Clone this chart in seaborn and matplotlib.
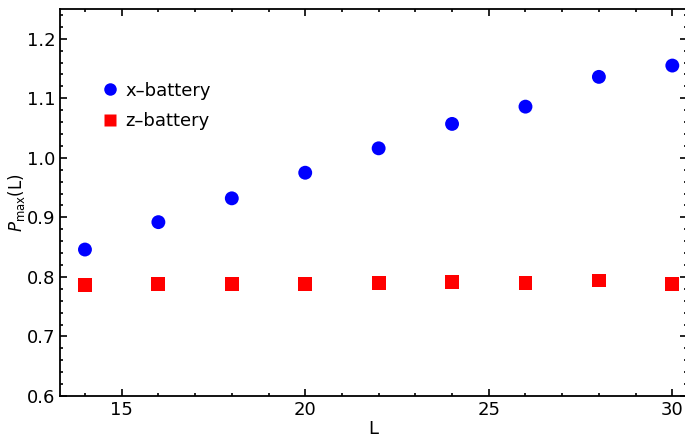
import numpy as np
import pandas as pd
import matplotlib
matplotlib.use("Agg")
import matplotlib.pyplot as plt
from matplotlib.ticker import MultipleLocator
import seaborn as sns

sizes_L = [14, 16, 18, 20, 22, 24, 26, 28, 30]
x_battery = [0.846, 0.892, 0.932, 0.975, 1.016, 1.057, 1.086, 1.136, 1.155]
z_battery = [0.787, 0.788, 0.788, 0.788, 0.790, 0.792, 0.790, 0.794, 0.788]

sns.set_style("ticks")
plt.rcParams["font.family"] = ["DejaVu Sans"]
plt.rcParams["text.color"] = "black"
plt.rcParams["axes.labelcolor"] = "black"
plt.rcParams["xtick.color"] = "black"
plt.rcParams["ytick.color"] = "black"
plt.rcParams["axes.edgecolor"] = "black"

df = pd.DataFrame({
    "L": sizes_L * 2,
    "P": x_battery + z_battery,
    "kind": ["x\u2013battery"] * len(sizes_L) + ["z\u2013battery"] * len(sizes_L),
})

fig = plt.figure(figsize=(6.85, 4.38), dpi=100)
ax = fig.add_axes([60 / 685, 42 / 438, 627 / 685, 387 / 438])

sns.scatterplot(
    data=df, x="L", y="P", hue="kind", style="kind",
    palette={"x\u2013battery": "#0000ff", "z\u2013battery": "#ff0000"},
    markers={"x\u2013battery": "o", "z\u2013battery": "s"},
    s=100, edgecolor="none", ax=ax,
)

ax.set_xlim(13.32, 30.4)
ax.set_ylim(0.6, 1.25)
ax.xaxis.set_major_locator(MultipleLocator(5))
ax.xaxis.set_minor_locator(MultipleLocator(1))
ax.yaxis.set_major_locator(MultipleLocator(0.1))
ax.yaxis.set_minor_locator(MultipleLocator(0.02))
ax.yaxis.set_major_formatter(matplotlib.ticker.FormatStrFormatter("%.1f"))
ax.tick_params(which="both", direction="in", top=True, right=True, labelsize=13, width=1.2)
ax.tick_params(which="major", length=5)
ax.tick_params(which="minor", length=2.5)
for sp in ax.spines.values():
    sp.set_linewidth(1.3)

ax.set_xlabel("L", fontsize=13, labelpad=1)
ax.set_ylabel(r"$P_{\mathrm{max}}$(L)", fontsize=12, labelpad=0)

leg = ax.legend(loc="upper left", bbox_to_anchor=(0.045, 0.845), frameon=False,
                fontsize=13, handlelength=1.0, handletextpad=0.35,
                labelspacing=0.7, borderaxespad=0.3, markerscale=0.9)

fig.savefig("out.png", dpi=100)
